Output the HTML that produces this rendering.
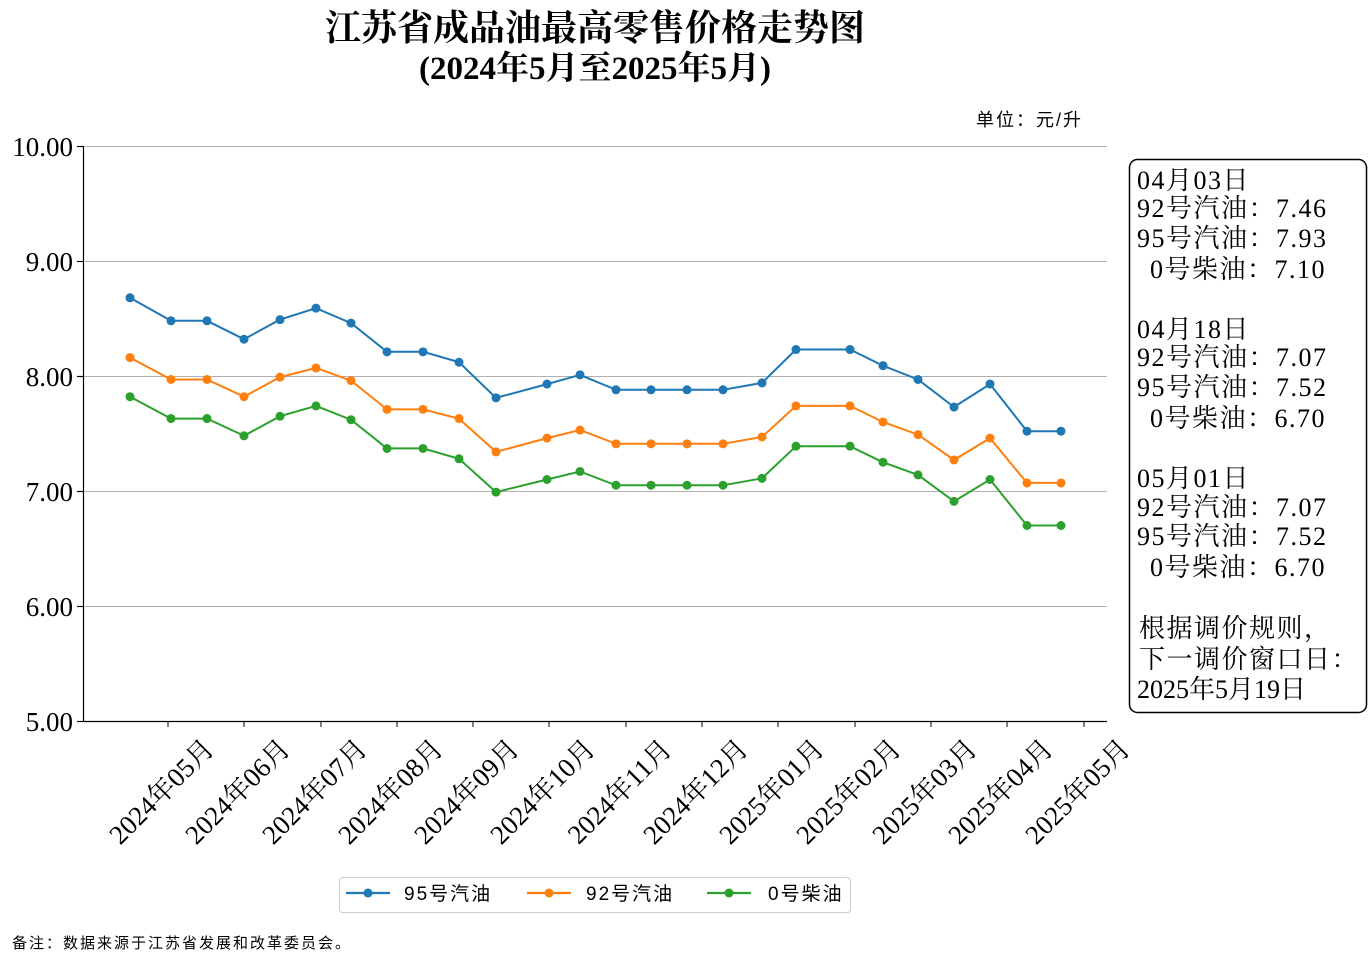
<!DOCTYPE html>
<html><head><meta charset="utf-8"><style>
body{margin:0;background:#fff;}
svg text{font-family:"Liberation Serif","Noto Serif CJK SC",serif;}
.s{font-family:"Liberation Sans","Noto Sans CJK SC",sans-serif !important;}
</style></head><body>
<svg width="1369" height="973" xmlns="http://www.w3.org/2000/svg">
<text x="595" y="40" font-size="36" font-weight="bold" text-anchor="middle">江苏省成品油最高零售价格走势图</text>
<text x="595" y="79" font-size="33" font-weight="bold" text-anchor="middle">(2024年5月至2025年5月)</text>
<text x="1083" y="126" font-size="18" text-anchor="end" class="s" letter-spacing="2">单位：元/升</text>
<g stroke="#b0b0b0" stroke-width="1">
<line x1="83" x2="1107" y1="146.5" y2="146.5"/><line x1="83" x2="1107" y1="261.5" y2="261.5"/>
<line x1="83" x2="1107" y1="376.5" y2="376.5"/><line x1="83" x2="1107" y1="491.5" y2="491.5"/>
<line x1="83" x2="1107" y1="606.5" y2="606.5"/>
</g>
<g stroke="#000" stroke-width="1.2">
<line x1="83.5" x2="83.5" y1="146" y2="722"/><line x1="83" x2="1107" y1="721.5" y2="721.5"/>
<line x1="77" x2="83" y1="146.5" y2="146.5"/><line x1="77" x2="83" y1="261.5" y2="261.5"/><line x1="77" x2="83" y1="376.5" y2="376.5"/><line x1="77" x2="83" y1="491.5" y2="491.5"/><line x1="77" x2="83" y1="606.5" y2="606.5"/><line x1="77" x2="83" y1="721.5" y2="721.5"/>
</g>
<g font-size="27" text-anchor="end">
<text x="73" y="156">10.00</text><text x="73" y="271">9.00</text><text x="73" y="386">8.00</text><text x="73" y="501">7.00</text><text x="73" y="616">6.00</text><text x="73" y="731">5.00</text>
</g>
<g id="xt"></g>
<g id="series"></g>
<rect x="1129.5" y="159.5" width="237" height="553" rx="8" fill="#fff" stroke="#000" stroke-width="1.5"/>
<g font-size="26" letter-spacing="1.5">
<text x="1137" y="189">04月03日</text>
<text x="1137" y="217">92号汽油：7.46</text>
<text x="1137" y="247">95号汽油：7.93</text>
<text x="1150" y="278">0号柴油：7.10</text>
<text x="1137" y="338">04月18日</text>
<text x="1137" y="366">92号汽油：7.07</text>
<text x="1137" y="396">95号汽油：7.52</text>
<text x="1150" y="427">0号柴油：6.70</text>
<text x="1137" y="487">05月01日</text>
<text x="1137" y="516">92号汽油：7.07</text>
<text x="1137" y="545">95号汽油：7.52</text>
<text x="1150" y="576">0号柴油：6.70</text>
<text x="1139" y="637">根据调价规则，</text>
<text x="1139" y="668">下一调价窗口日：</text>
<text x="1137" y="698" letter-spacing="0">2025年5月19日</text>
</g>
<rect x="339.5" y="877.5" width="511" height="35" rx="3" fill="#fff" stroke="#ccc"/>
<g stroke-width="2.2">
<line x1="346" x2="390" y1="893" y2="893" stroke="#1f77b4"/><circle cx="368" cy="893" r="4.5" fill="#1f77b4"/>
<line x1="527" x2="571" y1="893" y2="893" stroke="#ff7f0e"/><circle cx="549" cy="893" r="4.5" fill="#ff7f0e"/>
<line x1="707" x2="751" y1="893" y2="893" stroke="#2ca02c"/><circle cx="729" cy="893" r="4.5" fill="#2ca02c"/>
</g>
<g font-size="19" letter-spacing="2">
<text x="404" y="900" class="s">95号汽油</text><text x="586" y="900" class="s">92号汽油</text><text x="768" y="900" class="s">0号柴油</text>
</g>
<text x="12" y="948" font-size="15" class="s" letter-spacing="2">备注：数据来源于江苏省发展和改革委员会。</text>
</svg>
<script>
const NS="http://www.w3.org/2000/svg";
const xs=[130,171,207,244,280,316,351,387,423,459,496,547,580,616,651,687,723,762,796,850,883,918,954,990,1027,1061];
const d95=[8.68,8.48,8.48,8.32,8.49,8.59,8.46,8.21,8.21,8.12,7.81,7.93,8.01,7.88,7.88,7.88,7.88,7.94,8.23,8.23,8.09,7.97,7.73,7.93,7.52,7.52];
const d92=[8.16,7.97,7.97,7.82,7.99,8.07,7.96,7.71,7.71,7.63,7.34,7.46,7.53,7.41,7.41,7.41,7.41,7.47,7.74,7.74,7.60,7.49,7.27,7.46,7.07,7.07];
const d0=[7.82,7.63,7.63,7.48,7.65,7.74,7.62,7.37,7.37,7.28,6.99,7.10,7.17,7.05,7.05,7.05,7.05,7.11,7.39,7.39,7.25,7.14,6.91,7.10,6.70,6.70];
const g=document.getElementById('series');
[[d95,'#1f77b4'],[d92,'#ff7f0e'],[d0,'#2ca02c']].forEach(([d,c])=>{
 const pts=d.map((v,i)=>xs[i]+','+(721-(v-5)*115).toFixed(1)).join(' ');
 const pl=document.createElementNS(NS,'polyline');pl.setAttribute('points',pts);pl.setAttribute('fill','none');pl.setAttribute('stroke',c);pl.setAttribute('stroke-width','2');g.appendChild(pl);
 d.forEach((v,i)=>{const ci=document.createElementNS(NS,'circle');ci.setAttribute('cx',xs[i]);ci.setAttribute('cy',721-(v-5)*115);ci.setAttribute('r','4.5');ci.setAttribute('fill',c);g.appendChild(ci);});
});
const ticks=[168,244,321,397,473,549,626,702,778,855,931,1007,1084];
const labs=['2024年05月','2024年06月','2024年07月','2024年08月','2024年09月','2024年10月','2024年11月','2024年12月','2025年01月','2025年02月','2025年03月','2025年04月','2025年05月'];
const xt=document.getElementById('xt');
ticks.forEach((t,i)=>{
 const l=document.createElementNS(NS,'line');l.setAttribute('x1',t);l.setAttribute('x2',t);l.setAttribute('y1',721);l.setAttribute('y2',727);l.setAttribute('stroke','#000');xt.appendChild(l);
 const tx=document.createElementNS(NS,'text');tx.setAttribute('x',t);tx.setAttribute('y',798);tx.setAttribute('font-size','27');tx.setAttribute('text-anchor','middle');
 tx.setAttribute('transform','rotate(-45 '+t+' 798)');tx.textContent=labs[i];xt.appendChild(tx);
});
</script>
</body></html>
